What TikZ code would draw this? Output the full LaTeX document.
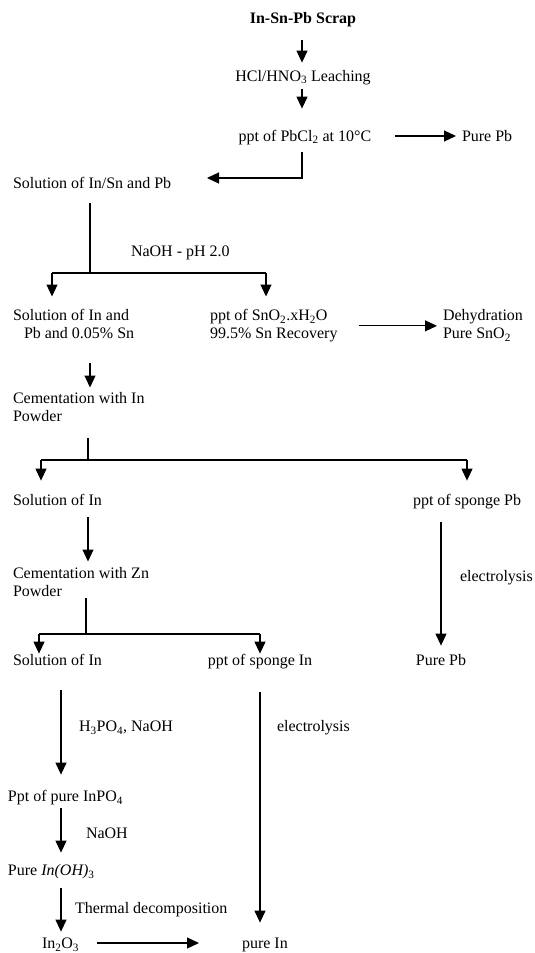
\documentclass[tikz,border=0pt]{standalone}
\usepackage{fontspec}
\setmainfont{Liberation Serif}
\usetikzlibrary{arrows.meta,positioning}

\begin{document}
\begin{tikzpicture}[x=1pt,y=-1pt,line width=1.2pt,
    txt/.style={inner sep=0pt,outer sep=0pt,anchor=west,
      font=\fontsize{16}{18}\selectfont,text height=10.8pt,text depth=0pt},
    two/.style={inner sep=0pt,outer sep=0pt,anchor=north west,align=left,
      font=\fontsize{16}{18}\selectfont},
    arr/.style={-{Triangle[width=11pt,length=12pt]}}]
  \useasboundingbox (0,0) rectangle (535,953);

  % Leaching
  \node[txt,anchor=center,font=\fontsize{16}{18}\selectfont\bfseries] (scrap) at (303,18) {In-Sn-Pb Scrap};
  \node[txt,anchor=center] (leach) at (303,76) {HCl/HNO\textsubscript{3} Leaching};
  \node[txt,anchor=center] (pbcl) at (305,136) {ppt of PbCl\textsubscript{2} at 10°C};
  \node[txt] (purePbA) at (462,136) {Pure Pb};
  \node[txt] (solInSnPb) at (13,183) {Solution of In/Sn and Pb};
  \node[txt] (naoh) at (131,251) {NaOH - pH 2.0};

  % Tin separation
  \node[two] (solInPb) at (13,309.5) {Solution of In and\\\hspace*{11pt}Pb and 0.05\% Sn};
  \node[two] (sno2) at (210,309.5) {ppt of SnO\textsubscript{2}.xH\textsubscript{2}O\\99.5\% Sn Recovery};
  \node[two] (dehyd) at (443,309.5) {Dehydration\\Pure SnO\textsubscript{2}};
  \node[two] (cemIn) at (13,392.5) {Cementation with In\\Powder};

  % Lead separation
  \node[txt] (solInA) at (13,500) {Solution of In};
  \node[txt,anchor=center] (spongePb) at (467,500) {ppt of sponge Pb};
  \node[txt] (elecPb) at (460,576) {electrolysis};
  \node[txt,anchor=center] (purePbB) at (441,660) {Pure Pb};
  \node[two] (cemZn) at (13,567.5) {Cementation with Zn\\Powder};

  % Indium recovery
  \node[txt] (solInB) at (13,660) {Solution of In};
  \node[txt,anchor=center] (spongeIn) at (260,660) {ppt of sponge In};
  \node[txt] (phos) at (79,726) {H\textsubscript{3}PO\textsubscript{4}, NaOH};
  \node[txt] (elecIn) at (277,726) {electrolysis};
  \node[txt] (InPO) at (8,796) {Ppt of pure InPO\textsubscript{4}};
  \node[txt] (naohB) at (86,833) {NaOH};
  \node[txt] (InOH) at (8,870) {Pure \textit{In(OH)}\textsubscript{3}};
  \node[txt] (thermal) at (75,908) {Thermal decomposition};
  \node[txt] (InO) at (42,943) {In\textsubscript{2}O\textsubscript{3}};
  \node[txt] (pureIn) at (242,943) {pure In};

  % Branch points
  \coordinate (k1) at (302,178);
  \coordinate (k2) at (207,178);
  \coordinate (b1) at (90,273);
  \coordinate (b1l) at (52,273);
  \coordinate (b1r) at (266,273);
  \coordinate (b2) at (88,460);
  \coordinate (b2l) at (41,460);
  \coordinate (b2r) at (467,460);
  \coordinate (b3) at (86,634);
  \coordinate (b3l) at (39,634);
  \coordinate (b3r) at (260,634);
  \coordinate (c4) at (61,700);

  % Connectors
  \draw[arr,shorten <=17pt,shorten >=8pt] (scrap.south -| k1) -- (leach.north -| k1);
  \draw[arr,shorten <=8pt,shorten >=22pt] (leach.south -| k1) -- (pbcl.north -| k1);
  \draw[arr,shorten <=24pt,shorten >=6pt] (pbcl) -- (purePbA);
  \draw[arr,shorten <=11pt] (pbcl.south -| k1) -- (k1) -- (k2);

  \draw[shorten <=15pt] (solInSnPb.south -| b1) -- (b1);
  \draw (b1l) -- (b1r);
  \foreach \s/\t in {b1l/solInPb,b1r/sno2}
    \draw[arr,shorten >=13pt] (\s) -- (\s |- \t.north);
  \draw[arr,shorten <=21pt,shorten >=6pt] (sno2.east) -- (sno2.east -| dehyd.west);
  \draw[arr,shorten <=24pt,shorten >=5pt] (solInPb.south -| b1) -- (cemIn.north -| b1);

  \draw[shorten <=16pt] (cemIn.south -| b2) -- (b2);
  \draw (b2l) -- (b2r);
  \foreach \s/\t in {b2l/solInA,b2r/spongePb}
    \draw[arr,shorten >=14pt] (\s) -- (\s |- \t.north);
  \draw[arr,shorten <=12pt,shorten >=6pt] (solInA.south -| b2) -- (cemZn.north -| b2);
  \draw[arr,shorten <=17pt,shorten >=9pt] (spongePb.south -| purePbB) -- (purePbB);

  \draw[shorten <=1pt] (cemZn.south -| b3) -- (b3);
  \draw (b3l) -- (b3r);
  \foreach \s/\t in {b3l/solInB,b3r/spongeIn}
    \draw[arr,shorten >=1pt] (\s) -- (\s |- \t.north);
  \draw[arr,shorten <=25pt,shorten >=16pt] (solInB.south -| c4) -- (InPO.north -| c4);
  \draw[arr,shorten <=27pt,shorten >=15pt] (spongeIn) -- (spongeIn |- pureIn.north);
  \draw[arr,shorten <=7pt,shorten >=12pt] (InPO.south -| c4) -- (InOH.north -| c4);
  \draw[arr,shorten <=13pt,shorten >=6pt] (InOH.south -| c4) -- (InO.north -| c4);
  \draw[arr,shorten <=18pt,shorten >=43pt] (InO) -- (pureIn);
\end{tikzpicture}
\end{document}
